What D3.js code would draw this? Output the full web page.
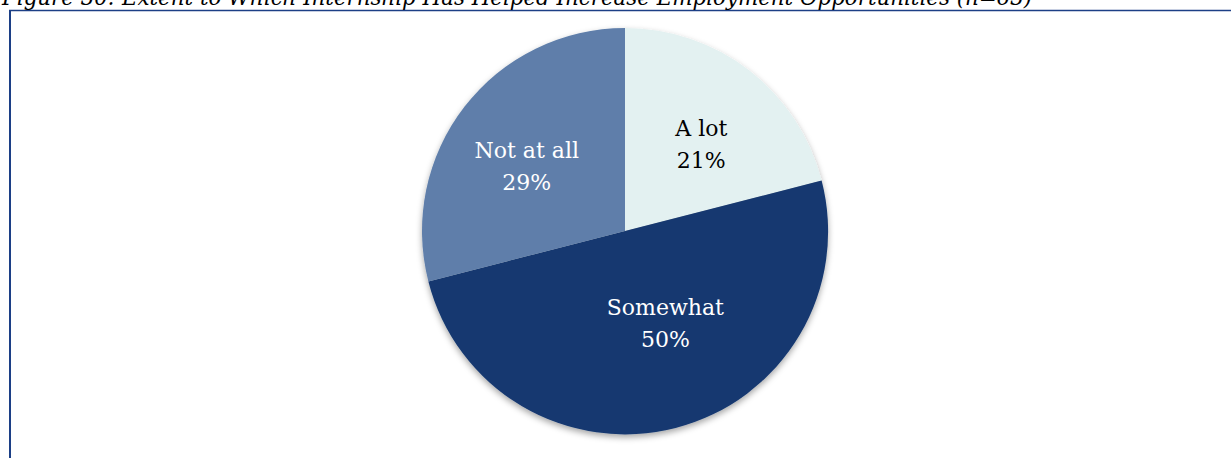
<!DOCTYPE html>
<html>
<head>
<meta charset="utf-8">
<script src="https://cdn.jsdelivr.net/npm/d3@7"></script>
<style>
  html, body { margin: 0; padding: 0; background: #fff; overflow: hidden; }
  svg { display: block; }
</style>
</head>
<body>
<svg id="chart" width="1231" height="458"></svg>
<script>
// Survey responses (n=63)
const categories = ["A lot", "Somewhat", "Not at all"];
const percents   = [21, 50, 29];
const colors     = ["#e3f1f1", "#15386f", "#5e7eaa"];
const labelColors = ["#000000", "#ffffff", "#ffffff"];
const titleText = "Figure 30: Extent to Which Internship Has Helped Increase Employment Opportunities (n=63)";

// label placement: distance from centre, plus a small nudge
const labelRadius = [118, 98, 118];
const labelNudge  = [[4, 3], [16, -6], [-5, 4]];

const W = 1231, H = 458;
const cx = 625, cy = 231, R = 203;

const svg = d3.select("#chart");

// soft drop shadow under the pie
const defs = svg.append("defs");
const f = defs.append("filter").attr("id", "pieShadow")
  .attr("x", "-10%").attr("y", "-10%").attr("width", "120%").attr("height", "125%");
f.append("feDropShadow")
  .attr("dx", 0).attr("dy", 3).attr("stdDeviation", 3)
  .attr("flood-color", "#000").attr("flood-opacity", 0.35);

// frame
svg.append("line").attr("x1", 9).attr("x2", W).attr("y1", 10.5).attr("y2", 10.5)
  .attr("stroke", "#1c3f86").attr("stroke-width", 1.5);
svg.append("line").attr("x1", 10).attr("x2", 10).attr("y1", 10).attr("y2", H)
  .attr("stroke", "#1c3f86").attr("stroke-width", 2);

// title (top partly above the page edge)
const title = svg.append("text")
  .attr("x", 2).attr("y", 5)
  .attr("font-family", "'DejaVu Serif', serif")
  .attr("font-style", "italic")
  .attr("font-size", 18)
  .attr("fill", "#000")
  .text(titleText);
const tw = title.node().getComputedTextLength();
title.attr("font-size", 18 * 1031 / tw);

// pie
const data = categories.map((c, i) => ({ cat: c, value: percents[i], i }));
const pie = d3.pie().value(d => d.value).sort(null);
const arcs = pie(data);
const arcGen = d3.arc().innerRadius(0).outerRadius(R);

const g = svg.append("g").attr("transform", `translate(${cx},${cy})`);
g.append("g").attr("filter", "url(#pieShadow)")
  .selectAll("path").data(arcs).join("path")
  .attr("d", arcGen)
  .attr("fill", d => colors[d.data.i]);

// labels
const lbl = g.selectAll("text.lbl").data(arcs).join("text")
  .attr("class", "lbl")
  .attr("font-family", "'DejaVu Serif', serif")
  .attr("font-size", 22)
  .attr("text-anchor", "middle")
  .attr("fill", d => labelColors[d.data.i])
  .attr("transform", d => {
    const r = labelRadius[d.data.i];
    const [x, y] = d3.arc().innerRadius(r).outerRadius(r).centroid(d);
    const [nx, ny] = labelNudge[d.data.i];
    return `translate(${x + nx},${y + ny})`;
  });
lbl.append("tspan").attr("x", 0).attr("dy", -5).text(d => d.data.cat);
lbl.append("tspan").attr("x", 0).attr("dy", 32).text(d => d.data.value + "%");
</script>
</body>
</html>
